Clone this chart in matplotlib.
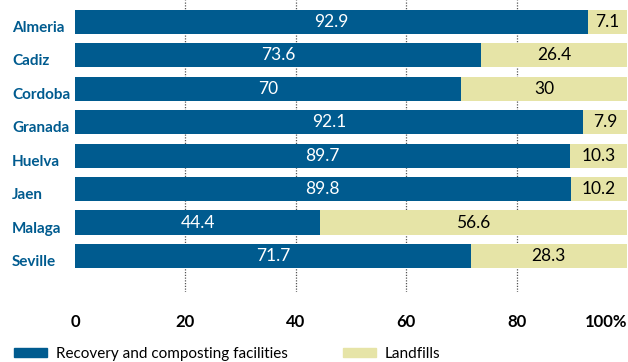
import numpy as np
import matplotlib.pyplot as plt
import matplotlib.transforms as mtransforms
from matplotlib.patches import Patch

provinces = ['Almeria', 'Cadiz', 'Cordoba', 'Granada', 'Huelva', 'Jaen', 'Malaga', 'Seville']
recovery = [92.9, 73.6, 70, 92.1, 89.7, 89.8, 44.4, 71.7]
landfills = [7.1, 26.4, 30, 7.9, 10.3, 10.2, 56.6, 28.3]
recovery_lbl = ['92.9', '73.6', '70', '92.1', '89.7', '89.8', '44.4', '71.7']
landfill_lbl = ['7.1', '26.4', '30', '7.9', '10.3', '10.2', '56.6', '28.3']
ticks = [0, 20, 40, 60, 80, 100]
tick_lbl = ['0', '20', '40', '60', '80', '100%']

blue = '#005b8f'
beige = '#e6e4a7'

plt.rcParams['font.family'] = ['Lato', 'DejaVu Sans']

fig = plt.figure(figsize=(6.28, 3.62), dpi=100)
ax = fig.add_axes([75/628, 1 - 292/362, 552/628, 292/362])

y = np.arange(len(provinces))
ax.barh(y, recovery, height=0.72, color=blue, zorder=2)
ax.barh(y, landfills, left=recovery, height=0.72, color=beige, zorder=2)

# labels on the left (sit a bit below the bar centre, like the original)
lbl_tr = mtransforms.blended_transform_factory(fig.transFigure, ax.transData)
lbl_tr = lbl_tr + mtransforms.ScaledTranslation(0, -6/100, fig.dpi_scale_trans)
for i in range(len(provinces)):
    ax.text(recovery[i] / 2, y[i], recovery_lbl[i], color='white', fontsize=12.5,
            ha='center', va='center', zorder=3)
    mid = (recovery[i] + min(recovery[i] + landfills[i], 100)) / 2
    ax.text(mid, y[i], landfill_lbl[i], color='black', fontsize=12.5,
            ha='center', va='center', zorder=3)
    ax.text(12/628, y[i], provinces[i], color=blue, fontsize=11, fontweight='bold',
            ha='left', va='center', transform=lbl_tr, clip_on=False)

ax.set_xlim(0, 100)
ax.set_ylim(8.08, -0.66)
for g in [20, 40, 60, 80]:
    ax.axvline(g, color='#555555', lw=0.9, ls=(0, (1, 1.2)), zorder=1)

ax.set_yticks([])
ax.set_xticks(ticks)
ax.set_xticklabels(tick_lbl, fontsize=12, fontweight='bold')
ax.get_xticklabels()[-1].set_ha('right')
ax.tick_params(axis='x', length=0, pad=16)
for s in ax.spines.values():
    s.set_visible(False)

handles = [Patch(color=blue, label='Recovery and composting facilities'),
           Patch(color=beige, label='Landfills')]
fig.legend(handles=handles, loc='lower left', bbox_to_anchor=(0.0, -0.035), ncol=2,
           frameon=False, fontsize=11, handlelength=2.2, handleheight=0.55,
           columnspacing=3.6, handletextpad=0.55)

fig.savefig('out.png', dpi=100)
